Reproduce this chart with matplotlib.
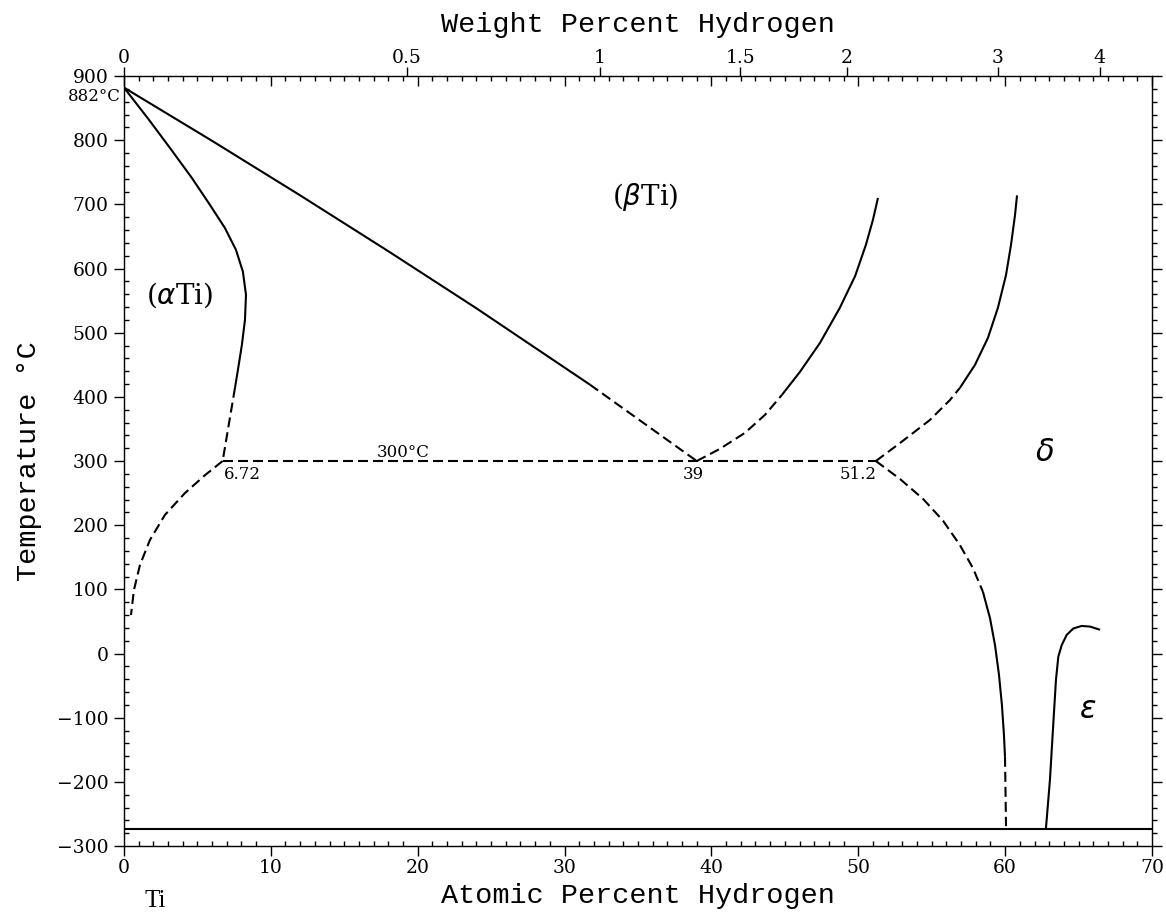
import numpy as np
import matplotlib
matplotlib.use("Agg")
import matplotlib.pyplot as plt
from matplotlib.ticker import MultipleLocator, FixedLocator, NullFormatter, NullLocator, FuncFormatter

# Ti-H phase diagram (at.% H, degC)
alpha_solvus_x = [0.0, 1.63, 3.13, 4.63, 5.86, 6.88, 7.63, 8.10, 8.31, 8.24, 8.03, 7.76, 7.56]
alpha_solvus_t = [882, 834, 788, 741, 699, 663, 629, 595, 559, 520, 481, 442, 414]
alpha_solvus_dash_x = [7.56, 6.72]
alpha_solvus_dash_t = [414, 300]

beta_transus_x = [0.0, 6.0, 12.0, 18.0, 24.0, 31.73]
beta_transus_t = [882, 799, 714, 627, 538, 419]
beta_transus_dash_x = [31.73, 39.0]
beta_transus_dash_t = [419, 300]

beta_delta_dash_x = [39.0, 40.58, 42.29, 43.65, 44.80]
beta_delta_dash_t = [300, 319, 344, 372, 403]
beta_delta_x = [44.80, 46.03, 47.39, 48.75, 49.78, 50.52, 51.00, 51.34]
beta_delta_t = [403, 439, 484, 539, 588, 637, 676, 710]

delta_beta_dash_x = [51.2, 52.84, 54.88, 56.24, 56.92]
delta_beta_dash_t = [300, 328, 364, 395, 414]
delta_beta_x = [56.92, 57.95, 58.83, 59.51, 60.06, 60.40, 60.67, 60.81]
delta_beta_t = [414, 450, 492, 539, 590, 637, 683, 714]

delta_alpha_dash_x = [51.2, 52.84, 54.41, 55.77, 56.92, 57.81, 58.49]
delta_alpha_dash_t = [300, 272, 241, 207, 169, 133, 96]
delta_alpha_x = [58.49, 58.97, 59.31, 59.58, 59.78, 59.92, 59.99]
delta_alpha_t = [96, 55, 13, -33, -80, -127, -161]
delta_alpha_low_x = [59.99, 60.06]
delta_alpha_low_t = [-161, -269]

eps_x = [62.78, 63.05, 63.28, 63.46, 63.62, 63.85, 64.19, 64.64, 65.21, 65.78, 66.46]
eps_t = [-272, -197, -109, -41, -5, 13, 29, 39, 43, 42, 37]

alpha_low_x = [6.72, 5.52, 4.15, 2.79, 1.77, 1.09, 0.68, 0.48]
alpha_low_t = [300, 278, 250, 216, 177, 138, 99, 60]

eutectoid_x = [6.72, 51.2]
eutectoid_t = [300, 300]
abs_zero_x = [0, 70]
abs_zero_t = [-273, -273]

wt_ticks = [0, 0.5, 1, 1.5, 2, 3, 4]
wt_labels = ["0", "0.5", "1", "1.5", "2", "3", "4"]

M_H, M_TI = 1.008, 47.867


def wt_to_at(w):
    w = np.asarray(w, dtype=float)
    r = w / (100 - w) * M_TI / M_H
    return 100 * r / (1 + r)


fig = plt.figure(figsize=(11.66, 9.16), dpi=100)
ax = fig.add_axes([0.1063, 0.0764, 0.8817, 0.8406])

lw = 1.5
dash = (0, (4.8, 2.4))
solid_kw = dict(color="black", lw=lw, solid_capstyle="butt", solid_joinstyle="round")
dash_kw = dict(color="black", lw=lw, linestyle=dash)

ax.plot(alpha_solvus_x, alpha_solvus_t, **solid_kw)
ax.plot(alpha_solvus_dash_x, alpha_solvus_dash_t, **dash_kw)
ax.plot(beta_transus_x, beta_transus_t, **solid_kw)
ax.plot(beta_transus_dash_x, beta_transus_dash_t, **dash_kw)
ax.plot(beta_delta_dash_x, beta_delta_dash_t, **dash_kw)
ax.plot(beta_delta_x, beta_delta_t, **solid_kw)
ax.plot(delta_beta_dash_x, delta_beta_dash_t, **dash_kw)
ax.plot(delta_beta_x, delta_beta_t, **solid_kw)
ax.plot(delta_alpha_dash_x, delta_alpha_dash_t, **dash_kw)
ax.plot(delta_alpha_x, delta_alpha_t, **solid_kw)
ax.plot(delta_alpha_low_x, delta_alpha_low_t, **dash_kw)
ax.plot(eps_x, eps_t, **solid_kw)
ax.plot(alpha_low_x, alpha_low_t, **dash_kw)
ax.plot(eutectoid_x, eutectoid_t, **dash_kw)
ax.plot(abs_zero_x, abs_zero_t, **solid_kw)

ax.set_xlim(0, 70)
ax.set_ylim(-300, 900)

tick_fam, tick_size = "DejaVu Serif", 13.5
lab_font = dict(family="Liberation Mono", size=20.5)
major_len, minor_len = 7.2, 3.6

# top: weight percent, ticks outward with labels
ax_wt = ax.twiny()
ax_wt.set_xlim(0, 70)
ax_wt.xaxis.set_major_locator(FixedLocator(wt_to_at(wt_ticks)))
ax_wt.xaxis.set_minor_locator(NullLocator())
ax_wt.set_xticklabels(wt_labels, family=tick_fam, size=tick_size)
ax_wt.tick_params(axis="x", which="major", direction="out", length=6.5, width=1, pad=0)
ax_wt.set_xlabel("Weight Percent Hydrogen", labelpad=12, **lab_font)

# top: atomic percent ticks pointing inward
ax_top = ax.twiny()
ax_top.set_xlim(0, 70)
ax_top.xaxis.set_major_locator(MultipleLocator(10))
ax_top.xaxis.set_minor_locator(MultipleLocator(1))
ax_top.xaxis.set_major_formatter(NullFormatter())
ax_top.tick_params(axis="x", which="major", direction="in", length=major_len, width=1)
ax_top.tick_params(axis="x", which="minor", direction="in", length=minor_len, width=1)

# right: ticks outward, no labels
ax_r = ax.twinx()
ax_r.set_ylim(-300, 900)
ax_r.yaxis.set_major_locator(MultipleLocator(100))
ax_r.yaxis.set_minor_locator(MultipleLocator(20))
ax_r.yaxis.set_major_formatter(NullFormatter())
ax_r.tick_params(axis="y", which="major", direction="out", length=major_len, width=1)
ax_r.tick_params(axis="y", which="minor", direction="out", length=minor_len, width=1)

# bottom / left: major out, minor in
ax.xaxis.set_major_locator(MultipleLocator(10))
ax.xaxis.set_minor_locator(MultipleLocator(1))
ax.yaxis.set_major_locator(MultipleLocator(100))
ax.yaxis.set_minor_locator(MultipleLocator(20))
ax.yaxis.set_major_formatter(FuncFormatter(lambda v, p: f"{v:.0f}".replace("-", "\u2212")))
ax.tick_params(which="major", direction="out", length=major_len, width=1, labelsize=tick_size)
ax.tick_params(axis="x", which="major", pad=2.5)
ax.tick_params(axis="y", which="major", pad=4)
ax.tick_params(which="minor", direction="in", length=minor_len, width=1)
for lbl in ax.get_xticklabels() + ax.get_yticklabels():
    lbl.set_fontfamily(tick_fam)

ax.set_xlabel("Atomic Percent Hydrogen", labelpad=4, **lab_font)
ax.set_ylabel("Temperature \u00b0C", **lab_font)
ax.yaxis.set_label_coords(-0.08, 0.5)

serif = "DejaVu Serif"
ax.text(3.8, 558, r"($\alpha$Ti)", fontsize=20, family=serif, ha="center", va="center")
ax.text(35.5, 711, r"($\beta$Ti)", fontsize=20, family=serif, ha="center", va="center")
ax.text(62.7, 314, r"$\delta$", fontsize=22, family=serif, ha="center", va="center")
ax.text(65.6, -88, r"$\varepsilon$", fontsize=22, family=serif, ha="center", va="center")
ax.text(19.0, 300, "300\u00b0C", fontsize=12, family=serif, ha="center", va="bottom")
ax.text(6.8, 293, "6.72", fontsize=12, family=serif, ha="left", va="top")
ax.text(38.8, 293, "39", fontsize=12, family=serif, ha="center", va="top")
ax.text(50.0, 293, "51.2", fontsize=12, family=serif, ha="center", va="top")
ax.text(-0.2, 868, "882\u00b0C", fontsize=12, family=serif, ha="right", va="center")
ax.text(2.1, -386, "Ti", fontsize=18, family="Liberation Serif", ha="center", va="center",
        clip_on=False)

fig.savefig("out.png", dpi=100)
